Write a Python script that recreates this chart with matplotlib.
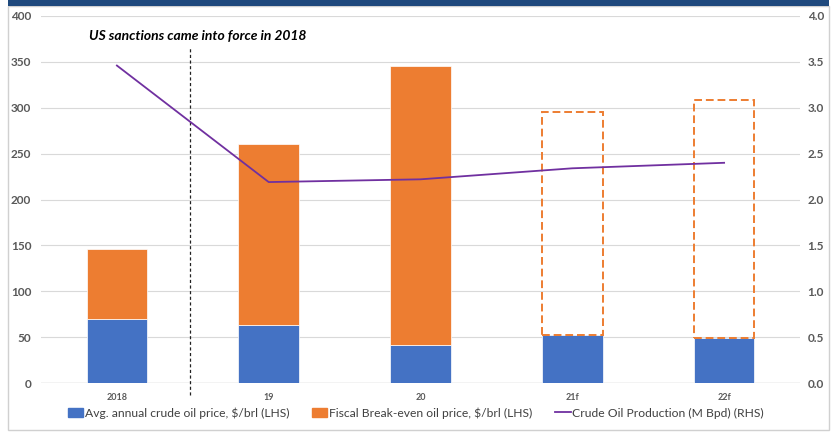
import matplotlib.pyplot as plt
from matplotlib.patches import Rectangle, Patch
from matplotlib.lines import Line2D
import numpy as np

plt.rcParams['font.family'] = ['Lato', 'DejaVu Sans']

categories = ['2018', '19', '20', '21f', '22f']
avg_price = [70, 63, 41, 52, 49]          # $/brl (LHS)
breakeven = [146, 261, 346, 295, 308]     # $/brl (LHS)
production = [3.46, 2.19, 2.22, 2.34, 2.40]  # M Bpd (RHS)
forecast = [False, False, False, True, True]

BLUE = '#4472C4'
ORANGE = '#ED7D31'
PURPLE = '#7030A0'
GRID = '#D9D9D9'
TXT = '#595959'

W, H = 837, 432
fig = plt.figure(figsize=(W / 100, H / 100), dpi=100)
ax = fig.add_axes([41 / W, 1 - 383 / H, (800 - 41) / W, (383 - 16) / H])

x = np.arange(len(categories))
width = 0.4
upper = np.array(breakeven) - np.array(avg_price)

ax.bar(x, avg_price, width, color=BLUE, edgecolor='white', linewidth=0.5, zorder=2)
for xi, b, h, fc in zip(x, avg_price, upper, forecast):
    if fc:
        ax.bar(xi, h, width, bottom=b, fill=False, edgecolor=ORANGE,
               linewidth=1.4, linestyle=(0, (4, 2)), zorder=2)
    else:
        ax.bar(xi, h, width, bottom=b, color=ORANGE, edgecolor='white',
               linewidth=0.5, zorder=2)

ax.set_xlim(-0.5, len(categories) - 0.5)
ax.set_ylim(0, 400)
ax.set_yticks(range(0, 401, 50))
ax.set_xticks(x)
ax.set_xticklabels(categories, fontsize=6.5, fontweight='bold', color=TXT)
ax.tick_params(axis='y', labelsize=8.5, colors=TXT, length=0, pad=7)
ax.tick_params(axis='x', length=0, pad=7)
for lbl in ax.get_yticklabels():
    lbl.set_fontweight('bold')
ax.grid(axis='y', color=GRID, linewidth=0.8, zorder=0)
ax.set_axisbelow(True)
for s in ax.spines.values():
    s.set_visible(False)
ax.axhline(0, color='#D0D0D0', linewidth=1, zorder=1)

ax2 = ax.twinx()
ax2.plot(x, production, color=PURPLE, linewidth=1.3, zorder=3)
ax2.set_ylim(0, 4)
ax2.set_yticks(np.arange(0, 4.01, 0.5))
ax2.set_yticklabels([f'{v:.1f}' for v in np.arange(0, 4.01, 0.5)])
ax2.tick_params(axis='y', labelsize=8.5, colors=TXT, length=0, pad=5.5)
for lbl in ax2.get_yticklabels():
    lbl.set_fontweight('bold')
for s in ax2.spines.values():
    s.set_visible(False)

# sanctions marker
ax.plot([0.48, 0.48], [-13, 366], color='#222222', linewidth=0.9,
        linestyle=(0, (2.5, 2)), clip_on=False, zorder=4)
ax.text(0.53, 378, 'US sanctions came into force in 2018', ha='center', va='center',
        fontsize=10, fontweight='bold', fontstyle='italic', color='black')

handles = [Patch(color=BLUE), Patch(color=ORANGE),
           Line2D([], [], color=PURPLE, linewidth=1.3)]
labels = ['Avg. annual crude oil price, $/brl (LHS)',
          'Fiscal Break-even oil price, $/brl (LHS)',
          'Crude Oil Production (M Bpd) (RHS)']
fig.legend(handles, labels, loc='center', bbox_to_anchor=(416 / W, 1 - 413 / H),
           ncol=3, frameon=False, fontsize=8.7, labelcolor='#404040',
           handlelength=1.25, handleheight=0.75, handletextpad=0.15, columnspacing=1.9)

# outer frame and header band
fig.add_artist(Rectangle((8 / W, 1 - 430 / H), (829 - 8) / W, (430 - 6) / H,
                         transform=fig.transFigure, fill=False,
                         edgecolor='#D0D0D0', linewidth=1))
fig.add_artist(Rectangle((8 / W, 1 - 6 / H), (829 - 8) / W, 6 / H,
                         transform=fig.transFigure, color='#1F497D', linewidth=0))

fig.savefig('out.png', dpi=100)
